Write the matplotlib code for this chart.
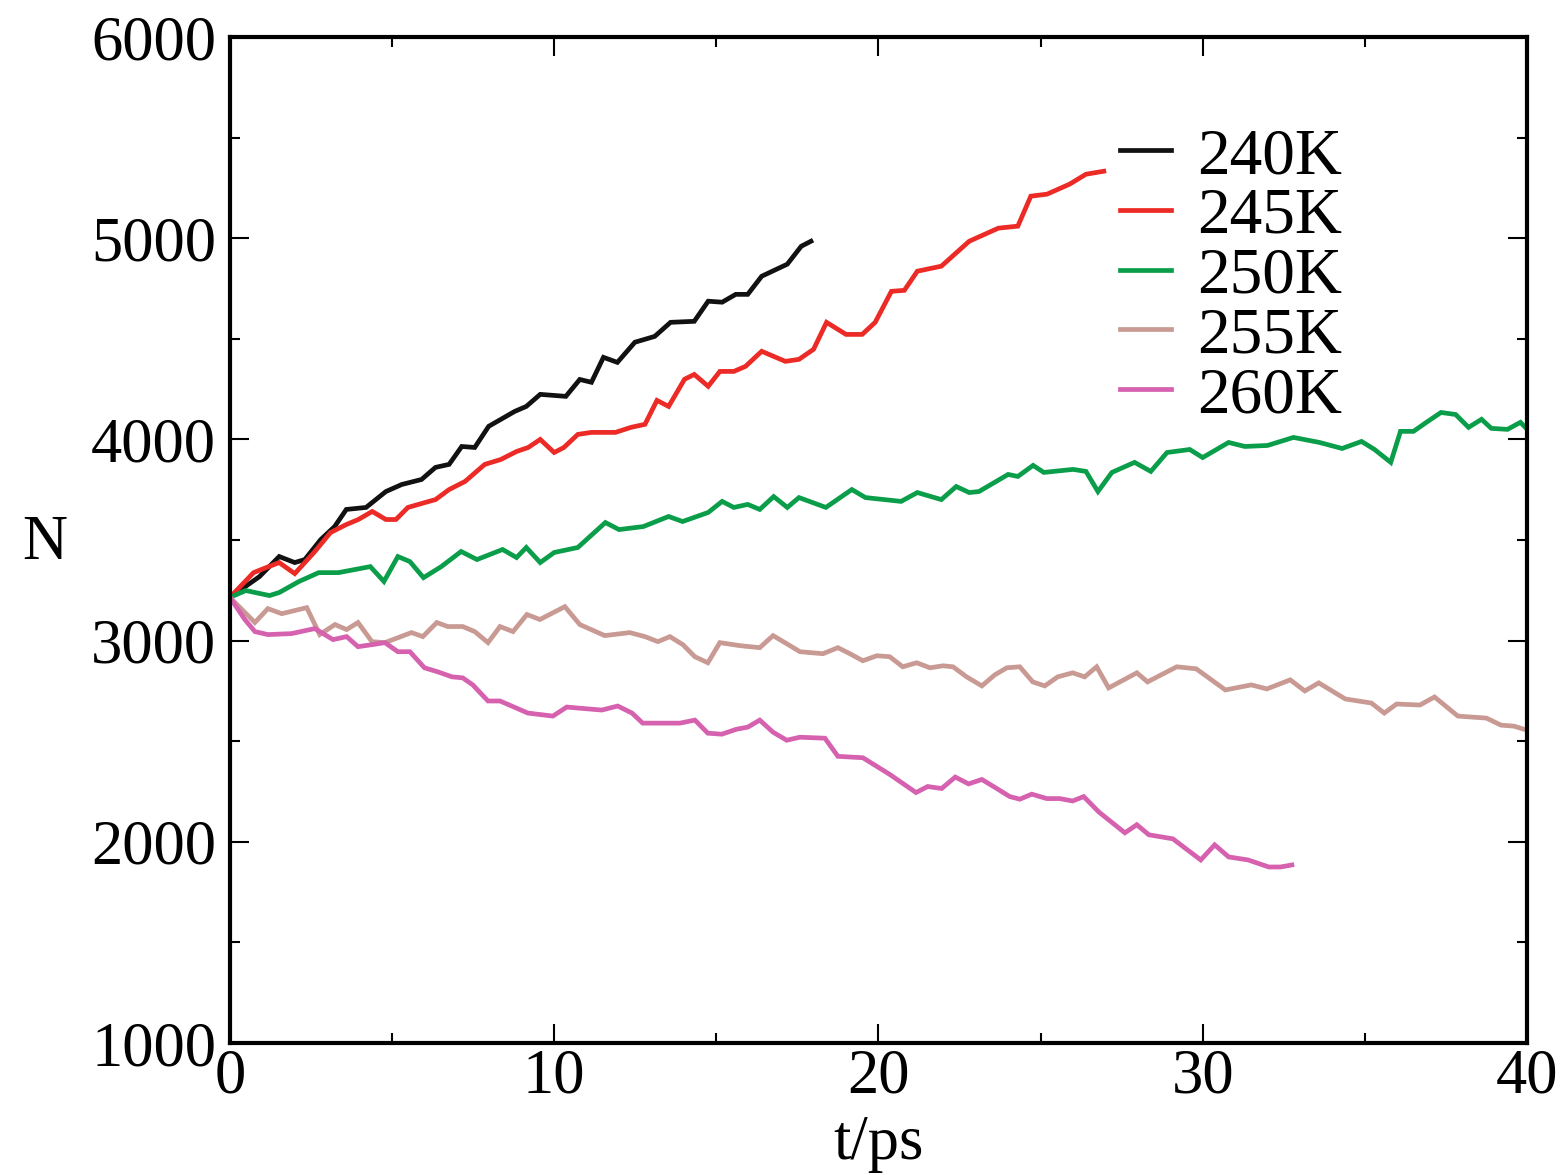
import matplotlib.pyplot as plt
from matplotlib.ticker import MultipleLocator

plt.rcParams['font.family'] = ['Liberation Serif', 'DejaVu Serif']

# values, N vs t/ps
t240 = [0, 0.91, 1.52, 2.0, 2.31, 2.8, 3.23, 3.59, 4.2, 4.81, 5.3, 5.91, 6.34, 6.76, 7.15,
        7.55, 7.98, 8.78, 9.14, 9.57, 10.36, 10.79, 11.15, 11.52, 11.95, 12.49, 13.1, 13.59,
        14.32, 14.75, 15.18, 15.6, 15.97, 16.4, 17.19, 17.62, 17.92]
n240 = [3215, 3318, 3418, 3388, 3403, 3502, 3567, 3652, 3662, 3741, 3776, 3801, 3861, 3876, 3965,
        3960, 4065, 4139, 4164, 4224, 4214, 4298, 4284, 4408, 4383, 4483, 4512, 4582,
        4587, 4687, 4682, 4721, 4721, 4811, 4871, 4960, 4985]

t245 = [0, 0.73, 1.04, 1.52, 2.0, 2.62, 3.1, 3.59, 3.96, 4.39, 4.81, 5.12, 5.49, 6.03, 6.34,
        6.76, 7.25, 7.86, 8.35, 8.84, 9.2, 9.57, 10.0, 10.3, 10.73, 11.15, 11.89, 12.37, 12.8,
        13.17, 13.53, 14.02, 14.32, 14.75, 15.11, 15.54, 15.9, 16.4, 17.13, 17.55, 18.0, 18.4,
        19.0, 19.5, 19.9, 20.4, 20.8, 21.2, 21.94, 22.8, 23.7, 24.3, 24.7, 25.2, 25.9, 26.4, 26.95]
n245 = [3215, 3338, 3358, 3388, 3333, 3443, 3537, 3577, 3602, 3642, 3602, 3602, 3662, 3687, 3701,
        3751, 3791, 3876, 3900, 3940, 3960, 4000, 3935, 3960, 4025, 4035, 4035, 4060, 4075,
        4194, 4164, 4299, 4323, 4264, 4338, 4338, 4363, 4438, 4388, 4398, 4448, 4582,
        4522, 4522, 4582, 4736, 4741, 4836, 4861, 4985, 5050, 5060, 5209, 5219, 5269, 5318, 5333]

t250 = [0, 0.49, 1.22, 1.52, 2.13, 2.74, 3.35, 4.33, 4.75, 5.18, 5.55, 5.97, 6.52, 7.13, 7.62,
        8.41, 8.84, 9.14, 9.57, 10.0, 10.73, 11.58, 12.0, 12.75, 13.53, 13.96, 14.75, 15.18,
        15.54, 15.97, 16.34, 16.77, 17.19, 17.55, 18.38, 19.18, 19.6, 20.7, 21.2, 21.94, 22.4,
        22.8, 23.1, 24.0, 24.3, 24.77, 25.1, 26.0, 26.4, 26.77, 27.2, 27.9, 28.4, 28.9, 29.6,
        30.0, 30.8, 31.3, 32.0, 32.8, 33.6, 34.3, 34.9, 35.3, 35.8, 36.1, 36.5, 36.9, 37.35,
        37.8, 38.2, 38.6, 38.9, 39.4, 39.8, 40.1]
n250 = [3215, 3249, 3224, 3239, 3294, 3338, 3338, 3368, 3294, 3418, 3393, 3313, 3368, 3443, 3403,
        3453, 3413, 3463, 3388, 3438, 3463, 3587, 3552, 3567, 3617, 3592, 3637, 3692,
        3662, 3677, 3652, 3716, 3662, 3711, 3662, 3751, 3711, 3692, 3736, 3701, 3766,
        3736, 3741, 3826, 3816, 3871, 3836, 3851, 3841, 3741, 3836, 3886, 3841, 3935, 3950,
        3910, 3985, 3965, 3970, 4010, 3985, 3955, 3990, 3950, 3886, 4040, 4040, 4085, 4134,
        4124, 4060, 4100, 4055, 4050, 4085, 4035]

t255 = [0, 0.77, 1.17, 1.6, 2.37, 2.77, 3.24, 3.6, 3.95, 4.38, 4.78, 5.6, 5.95, 6.38, 6.72,
        7.18, 7.55, 7.96, 8.33, 8.73, 9.16, 9.56, 10.33, 10.79, 11.56, 12.33, 12.8, 13.2,
        13.57, 13.97, 14.34, 14.74, 15.11, 15.73, 16.34, 16.75, 17.17, 17.58, 18.29, 18.75,
        19.12, 19.52, 19.95, 20.35, 20.75, 21.18, 21.59, 21.99, 22.3, 22.72, 23.19, 23.59,
        23.96, 24.36, 24.76, 25.13, 25.53, 25.99, 26.36, 26.73, 27.1, 27.97, 28.3, 29.2, 29.8,
        30.7, 31.5, 31.98, 32.7, 33.15, 33.58, 34.4, 35.2, 35.6, 35.98, 36.7, 37.15, 37.87,
        38.75, 39.2, 39.6, 40.0]
n255 = [3215, 3090, 3159, 3134, 3164, 3030, 3080, 3055, 3090, 2995, 2990, 3040, 3020, 3090, 3070,
        3070, 3045, 2990, 3070, 3045, 3130, 3105, 3169, 3080, 3025, 3040, 3020, 2995,
        3020, 2980, 2920, 2890, 2990, 2975, 2965, 3025, 2985, 2945, 2935, 2965,
        2935, 2900, 2925, 2920, 2870, 2890, 2865, 2875, 2870, 2820, 2775, 2830,
        2865, 2870, 2795, 2775, 2820, 2840, 2820, 2870, 2765, 2840, 2795, 2870, 2860,
        2755, 2780, 2760, 2805, 2750, 2790, 2710, 2690, 2640, 2685, 2680, 2720, 2625,
        2615, 2580, 2575, 2555]

t260 = [0, 0.46, 0.77, 1.17, 1.9, 2.62, 3.18, 3.6, 3.95, 4.38, 4.78, 5.18, 5.55, 6.0, 6.41,
        6.85, 7.18, 7.49, 7.96, 8.33, 9.19, 9.96, 10.39, 10.73, 11.47, 11.96, 12.4, 12.73,
        13.26, 13.88, 14.34, 14.74, 15.17, 15.63, 15.97, 16.34, 16.75, 17.17, 17.58, 18.35,
        18.75, 19.52, 20.35, 21.16, 21.52, 21.95, 22.37, 22.78, 23.19, 23.65, 24.05, 24.36,
        24.73, 25.19, 25.59, 25.99, 26.33, 26.8, 27.6, 27.97, 28.34, 29.08, 29.94, 30.37,
        30.8, 31.4, 32.04, 32.4, 32.75]
n260 = [3215, 3105, 3045, 3030, 3035, 3060, 3005, 3020, 2970, 2980, 2990, 2945, 2945, 2865, 2845,
        2820, 2815, 2780, 2700, 2700, 2640, 2625, 2670, 2665, 2655, 2675, 2640, 2590,
        2590, 2590, 2605, 2540, 2535, 2560, 2570, 2605, 2545, 2505, 2520, 2515,
        2425, 2418, 2335, 2245, 2275, 2265, 2322, 2288, 2310, 2265, 2225, 2212,
        2237, 2215, 2215, 2203, 2225, 2148, 2045, 2085, 2035, 2015, 1910, 1985,
        1925, 1910, 1875, 1875, 1885]

labels = ['240K', '245K', '250K', '255K', '260K']
colors = ['#111111', '#EC2A26', '#0B9E4A', '#C99A93', '#D561AF']

fig = plt.figure(figsize=(15.64, 11.75), dpi=100)
ax = fig.add_axes([0.147, 0.1123, 0.8293, 0.8562])

series = [(t240, n240), (t245, n245), (t250, n250), (t255, n255), (t260, n260)]
for (t, n), lab, c in zip(series, labels, colors):
    ax.plot(t, n, color=c, lw=3.4, label=lab, solid_joinstyle='miter')

ax.set_xlim(0, 40)
ax.set_ylim(1000, 6000)
ax.xaxis.set_major_locator(MultipleLocator(10))
ax.xaxis.set_minor_locator(MultipleLocator(5))
ax.yaxis.set_major_locator(MultipleLocator(1000))
ax.yaxis.set_minor_locator(MultipleLocator(500))
ax.tick_params(which='both', direction='in', top=True, right=True, width=1.5, labelsize=45)
ax.tick_params(which='major', length=14)
ax.tick_params(which='minor', length=7)
ax.tick_params(axis='y', pad=10)
ax.tick_params(axis='x', pad=4)
for s in ax.spines.values():
    s.set_linewidth(3)

ax.set_xlabel('t/ps', fontsize=45, labelpad=6)
ax.set_ylabel('N', fontsize=45, rotation=0, va='center', ha='center')
ax.yaxis.set_label_coords(-0.143, 0.496)

ax.legend(loc='upper left', bbox_to_anchor=(0.686, 0.91), frameon=False, fontsize=47,
          handlelength=0.78, handletextpad=0.4, labelspacing=0.0, borderpad=0, borderaxespad=0)

fig.savefig('out.png', dpi=100)
